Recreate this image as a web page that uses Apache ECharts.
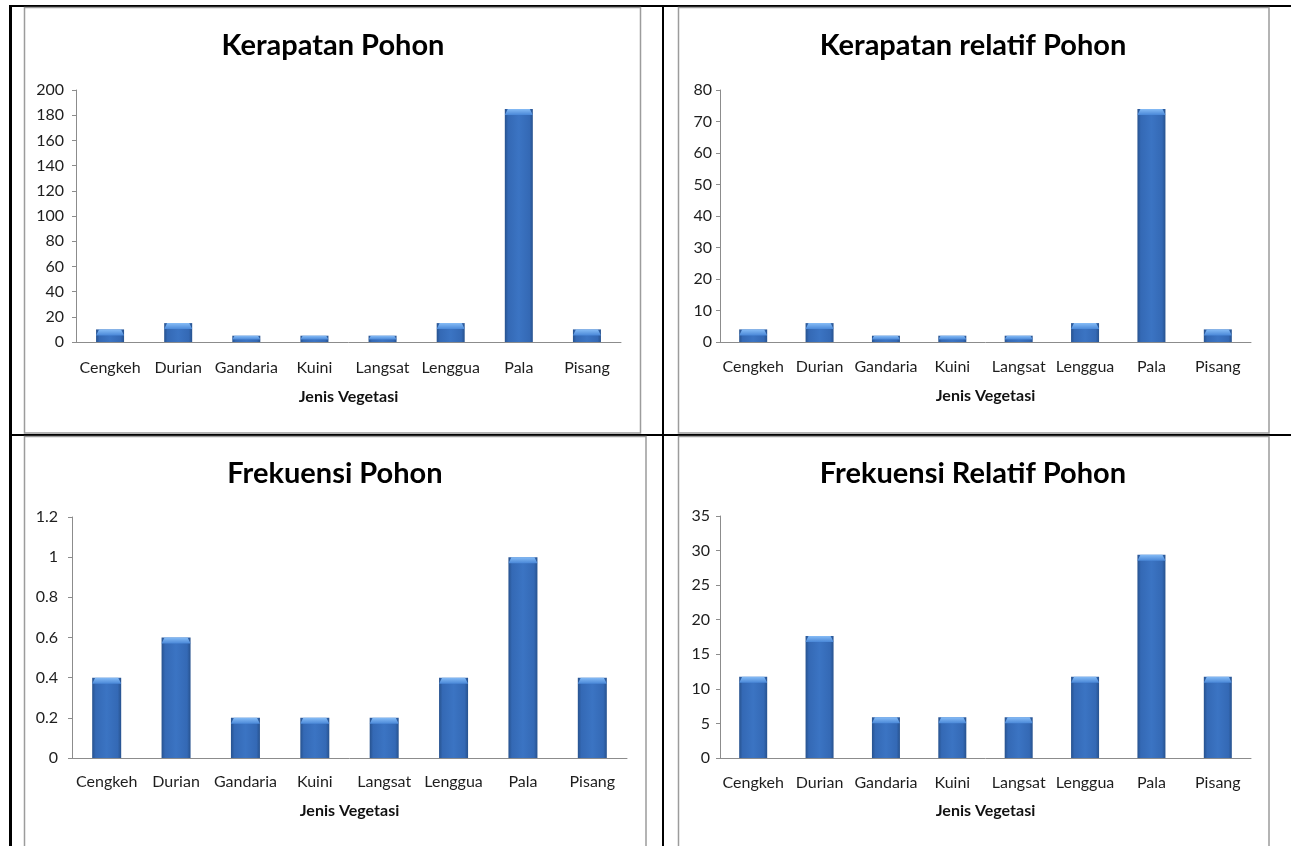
<!DOCTYPE html>
<html>
<head>
<meta charset="utf-8">
<script src="https://cdn.jsdelivr.net/npm/echarts@6/dist/echarts.min.js"></script>
<style>
html,body{margin:0;padding:0;background:#fff;}
#main{width:1291px;height:846px;}
</style>
</head>
<body>
<div id="main"></div>
<script>
const categories = ['Cengkeh','Durian','Gandaria','Kuini','Langsat','Lenggua','Pala','Pisang'];

const kerapatan = [10, 15, 5, 5, 5, 15, 185, 10];
const kerapatanRelatif = [4, 6, 2, 2, 2, 6, 74, 4];
const frekuensi = [0.4, 0.6, 0.2, 0.2, 0.2, 0.4, 1, 0.4];
const frekuensiRelatif = [11.76, 17.65, 5.88, 5.88, 5.88, 11.76, 29.41, 11.76];

const kerapatanTicks = [0, 20, 40, 60, 80, 100, 120, 140, 160, 180, 200];
const kerapatanRelatifTicks = [0, 10, 20, 30, 40, 50, 60, 70, 80];
const frekuensiTicks = ['0', '0.2', '0.4', '0.6', '0.8', '1', '1.2'];
const frekuensiRelatifTicks = [0, 5, 10, 15, 20, 25, 30, 35];

const titles = ['Kerapatan Pohon', 'Kerapatan relatif Pohon', 'Frekuensi Pohon', 'Frekuensi Relatif Pohon'];
const xAxisTitle = 'Jenis Vegetasi';

const FONT = 'Lato';
const chart = echarts.init(document.getElementById('main'), null, {renderer: 'canvas'});

const panels = [
  {data: kerapatan, ticks: kerapatanTicks, grid: {left: 76, top: 90, width: 545, height: 252}, titleX: 328, titleTop: 26, labelMargin: 12, nameGap: 47, axisLabelMargin: 18, barW: 28},
  {data: kerapatanRelatif, ticks: kerapatanRelatifTicks, grid: {left: 720, top: 90, width: 531, height: 252}, titleX: 968, titleTop: 26, labelMargin: 8, nameGap: 46, axisLabelMargin: 17, barW: 28},
  {data: frekuensi, ticks: frekuensiTicks, grid: {left: 72, top: 517, width: 555, height: 241}, titleX: 330, titleTop: 454, labelMargin: 14, nameGap: 45, axisLabelMargin: 16, barW: 29},
  {data: frekuensiRelatif, ticks: frekuensiRelatifTicks, grid: {left: 720, top: 516, width: 531, height: 242}, titleX: 968, titleTop: 454, labelMargin: 10, nameGap: 45, axisLabelMargin: 17, barW: 28}
];

const barGradient = new echarts.graphic.LinearGradient(0, 0, 1, 0, [
  {offset: 0, color: '#27528e'},
  {offset: 0.12, color: '#3469b5'},
  {offset: 0.5, color: '#3b74c3'},
  {offset: 0.88, color: '#3469b5'},
  {offset: 1, color: '#27528e'}
]);

const grids = [], xAxes = [], yAxes = [], series = [], titleArr = [];
panels.forEach((p, i) => {
  const t = p.ticks.map(Number);
  grids.push(Object.assign({containLabel: false}, p.grid));
  titleArr.push({
    text: titles[i], left: p.titleX, top: p.titleTop, textAlign: 'center',
    textStyle: {fontFamily: FONT, fontWeight: 'bold', fontSize: 29, color: '#000'}
  });
  xAxes.push({
    type: 'category', gridIndex: i, data: categories,
    axisLine: {lineStyle: {color: '#8c8c8c', width: 1}},
    axisTick: {show: false},
    axisLabel: {fontFamily: FONT, fontSize: 16, color: '#1e1e1e', margin: p.axisLabelMargin, interval: 0},
    name: xAxisTitle, nameLocation: 'middle', nameGap: p.nameGap,
    nameTextStyle: {fontFamily: FONT, fontWeight: 'bold', fontSize: 16, color: '#111'}
  });
  yAxes.push({
    type: 'value', gridIndex: i, min: t[0], max: t[t.length - 1], interval: t[1] - t[0],
    axisLine: {show: true, lineStyle: {color: '#8c8c8c', width: 1}},
    axisTick: {show: true, length: 4, lineStyle: {color: '#8c8c8c'}},
    splitLine: {show: false},
    axisLabel: {
      fontFamily: FONT, fontSize: 16, color: '#1e1e1e', margin: p.labelMargin,
      formatter: (v) => {
        const idx = t.findIndex(x => Math.abs(x - v) < 1e-9);
        return idx >= 0 ? String(p.ticks[idx]) : '';
      }
    }
  });
  series.push({
    type: 'bar', xAxisIndex: i, yAxisIndex: i, data: p.data, barWidth: p.barW,
    itemStyle: {color: barGradient},
    z: 2
  });
  series.push({
    type: 'custom', xAxisIndex: i, yAxisIndex: i,
    data: p.data.map((v, k) => [k, v]),
    z: 3, silent: true,
    renderItem: function (params, api) {
      const top = api.coord([api.value(0), api.value(1)]);
      const base = api.coord([api.value(0), 0]);
      const w = p.barW;
      const x0 = top[0] - w / 2, x1 = top[0] + w / 2;
      const h = Math.min(6, (base[1] - top[1]) * 0.6);
      const b = Math.min(3, h * 0.6);
      return {
        type: 'polygon',
        shape: {points: [[x0, top[1] + h], [x0 + b, top[1]], [x1 - b, top[1]], [x1, top[1] + h]]},
        style: {
          fill: new echarts.graphic.LinearGradient(0, 0, 0, 1, [
            {offset: 0, color: '#86bcf6'},
            {offset: 1, color: '#4a88d8'}
          ])
        }
      };
    }
  });
});

const frameStyle = {fill: '#fff', stroke: '#9c9c9c', lineWidth: 1.5};
const graphic = [
  // table borders
  {type: 'rect', shape: {x: 9, y: 5, width: 1282, height: 2}, style: {fill: '#000'}, z: -3},
  {type: 'rect', shape: {x: 9, y: 5, width: 3, height: 841}, style: {fill: '#000'}, z: -3},
  {type: 'rect', shape: {x: 662, y: 5, width: 2, height: 841}, style: {fill: '#000'}, z: -3},
  {type: 'rect', shape: {x: 9, y: 434, width: 1282, height: 2}, style: {fill: '#000'}, z: -3},
  // chart frames
  {type: 'rect', shape: {x: 24.5, y: 7.5, width: 616, height: 425.5}, style: frameStyle, z: -2},
  {type: 'rect', shape: {x: 678.5, y: 7.5, width: 590.5, height: 425.5}, style: frameStyle, z: -2},
  {type: 'rect', shape: {x: 24.5, y: 436.5, width: 621.5, height: 420}, style: frameStyle, z: -2},
  {type: 'rect', shape: {x: 678.5, y: 436.5, width: 590.5, height: 420}, style: frameStyle, z: -2}
];

chart.setOption({
  animation: false,
  title: titleArr,
  grid: grids,
  xAxis: xAxes,
  yAxis: yAxes,
  series: series,
  graphic: {elements: graphic}
});
</script>
</body>
</html>
